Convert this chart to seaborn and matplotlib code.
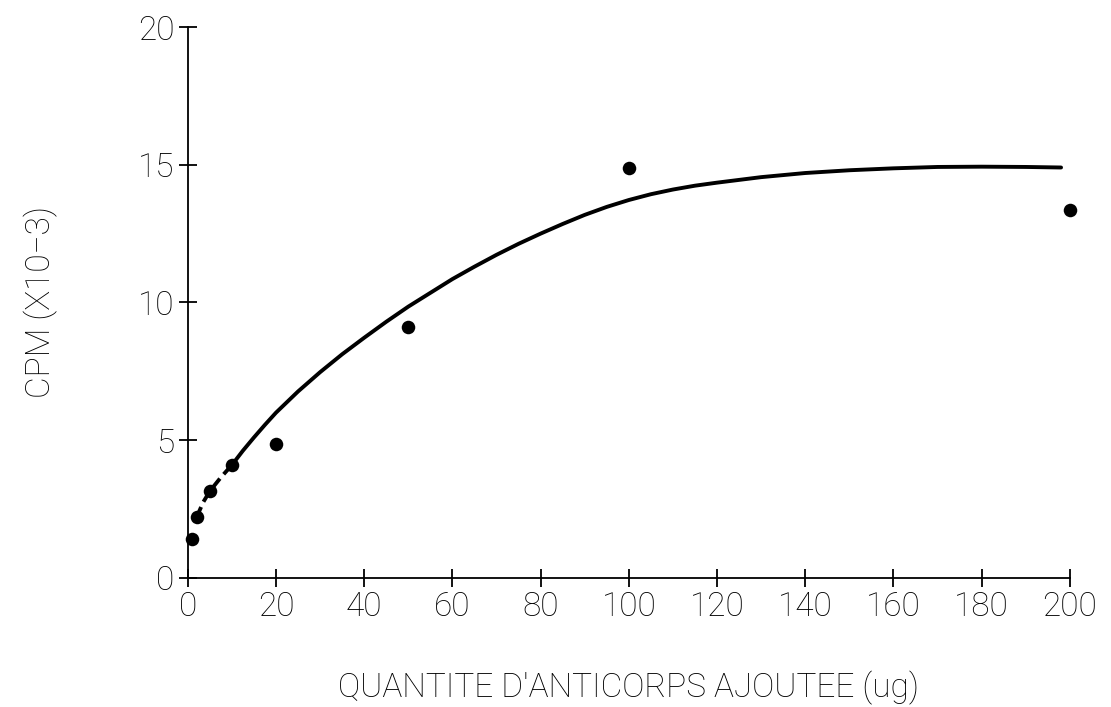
import numpy as np
import pandas as pd
import matplotlib
matplotlib.use("Agg")
import matplotlib.pyplot as plt
import seaborn as sns

# Data
dose_ug = [1, 2, 5, 10, 20, 50, 100, 200]
cpm_e3 = [1.4, 2.2, 3.15, 4.1, 4.85, 9.1, 14.9, 13.35]

fit_dash_x = [2, 3.5, 5, 7.5, 10]
fit_dash_y = [2.2, 2.75, 3.15, 3.65, 4.1]

fit_x = [10, 12.5, 15, 17.5, 20, 25, 30, 35, 40, 45, 50, 55, 60, 65, 70, 75, 80, 85, 90,
         95, 100, 105, 110, 115, 120, 130, 140, 150, 160, 170, 180, 190, 198]
fit_y = [4.1, 4.62, 5.1, 5.56, 6.0, 6.77, 7.47, 8.12, 8.72, 9.3, 9.85, 10.35, 10.85, 11.3,
         11.73, 12.13, 12.5, 12.85, 13.18, 13.47, 13.72, 13.93, 14.1, 14.24, 14.35, 14.55,
         14.7, 14.8, 14.87, 14.92, 14.93, 14.92, 14.9]

x_ticks = [0, 20, 40, 60, 80, 100, 120, 140, 160, 180, 200]
y_ticks = [0, 5, 10, 15, 20]

x_label = "QUANTITE D'ANTICORPS AJOUTEE (ug)"
y_label = "CPM (X10\u22123)"

sns.set_style("ticks")
plt.rcParams['font.family'] = ['Roboto', 'DejaVu Sans']
plt.rcParams['font.weight'] = 'light'
plt.rcParams['axes.labelweight'] = 'light'

fig = plt.figure(figsize=(11.11, 7.07), dpi=100)
ax = fig.add_axes([0.169, 0.1825, 0.794, 0.7793])

pts = pd.DataFrame({"x": dose_ug, "y": cpm_e3})
dash = pd.DataFrame({"x": fit_dash_x, "y": fit_dash_y})
solid = pd.DataFrame({"x": fit_x, "y": fit_y})

sns.lineplot(data=dash, x="x", y="y", ax=ax, color="black", lw=2.8,
             linestyle=(0, (2.9, 1.5)), estimator=None, sort=False)
sns.lineplot(data=solid, x="x", y="y", ax=ax, color="black", lw=2.8,
             estimator=None, sort=False)
sns.scatterplot(data=pts, x="x", y="y", ax=ax, color="black", s=95,
                edgecolor="black", linewidth=0, zorder=5, clip_on=False)

ax.set_xlim(0, 200)
ax.set_ylim(0, 20)
ax.set_xticks(x_ticks)
ax.set_yticks(y_ticks)
ax.set_xticklabels([str(v) for v in x_ticks])
ax.set_yticklabels([str(v) for v in y_ticks])

for side in ["top", "right"]:
    ax.spines[side].set_visible(False)
for side in ["left", "bottom"]:
    ax.spines[side].set_linewidth(1.3)
    ax.spines[side].set_color("black")

ax.tick_params(axis="both", direction="inout", length=13, width=1.3,
               color="black", labelsize=24, pad=3, labelcolor="black")

ax.set_xlabel(x_label, fontsize=24, labelpad=34, color="black", fontweight="light")
ax.set_ylabel(y_label, fontsize=24, labelpad=58, color="black", fontweight="light")

fig.savefig("out.png", dpi=100)
